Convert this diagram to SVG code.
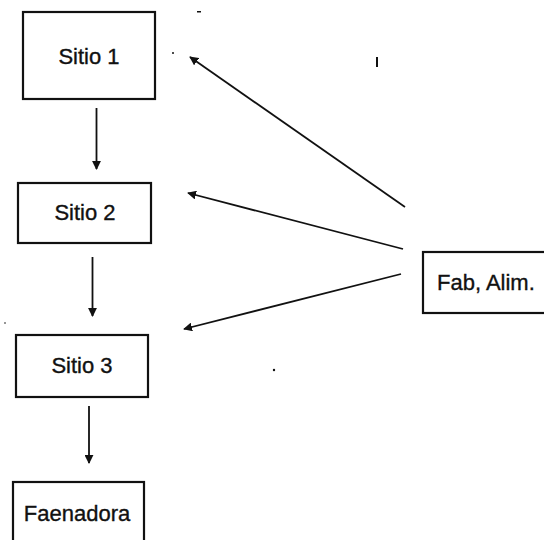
<svg xmlns="http://www.w3.org/2000/svg" width="544" height="540" viewBox="0 0 544 540">
<style>
.box{fill:#fff;stroke:#111;stroke-width:2.2}
.lbl{font-family:"Liberation Sans",Arial,sans-serif;font-size:22px;fill:#111;stroke:#111;stroke-width:0.35}
.edge{stroke:#111;stroke-width:1.8;fill:none;marker-end:url(#ah)}
.spk{fill:#111}
</style>
<defs>
<marker id="ah" viewBox="0 0 10 10" refX="9" refY="5" markerWidth="9" markerHeight="9" markerUnits="userSpaceOnUse" orient="auto">
<path d="M0,0 L10,5 L0,10 z" fill="#111"/>
</marker>
</defs>
<rect width="544" height="540" fill="#fff"/>
<g id="sitio1"><rect class="box" x="23" y="12" width="132" height="87"/><text class="lbl" x="89" y="64" text-anchor="middle">Sitio 1</text></g>
<g id="sitio2"><rect class="box" x="18" y="183" width="133" height="60"/><text class="lbl" x="85" y="220" text-anchor="middle">Sitio 2</text></g>
<g id="sitio3"><rect class="box" x="16" y="335" width="132" height="62"/><text class="lbl" x="82" y="373" text-anchor="middle">Sitio 3</text></g>
<g id="faenadora"><rect class="box" x="13" y="482" width="131" height="70"/><text class="lbl" x="77" y="521" text-anchor="middle">Faenadora</text></g>
<g id="fabalim"><rect class="box" x="423" y="252" width="130" height="61"/><text class="lbl" x="437" y="290">Fab, Alim.</text></g>
<g id="connectors">
<line class="edge" x1="96.5" y1="108" x2="96.5" y2="169"/>
<line class="edge" x1="92.5" y1="257" x2="92.5" y2="316"/>
<line class="edge" x1="89" y1="406" x2="89" y2="463"/>
<line class="edge" x1="405" y1="207" x2="190" y2="57"/>
<line class="edge" x1="403" y1="249" x2="188" y2="193"/>
<line class="edge" x1="401" y1="274" x2="184" y2="329"/>
</g>
<g id="specks">
<circle class="spk" cx="173" cy="53" r="1"/>
<rect class="spk" x="197" y="11" width="4" height="1.5"/>
<rect class="spk" x="376" y="57" width="2" height="10"/>
<circle class="spk" cx="274" cy="370" r="1.2"/>
<circle class="spk" cx="5" cy="323" r="0.8"/>
</g>
</svg>
